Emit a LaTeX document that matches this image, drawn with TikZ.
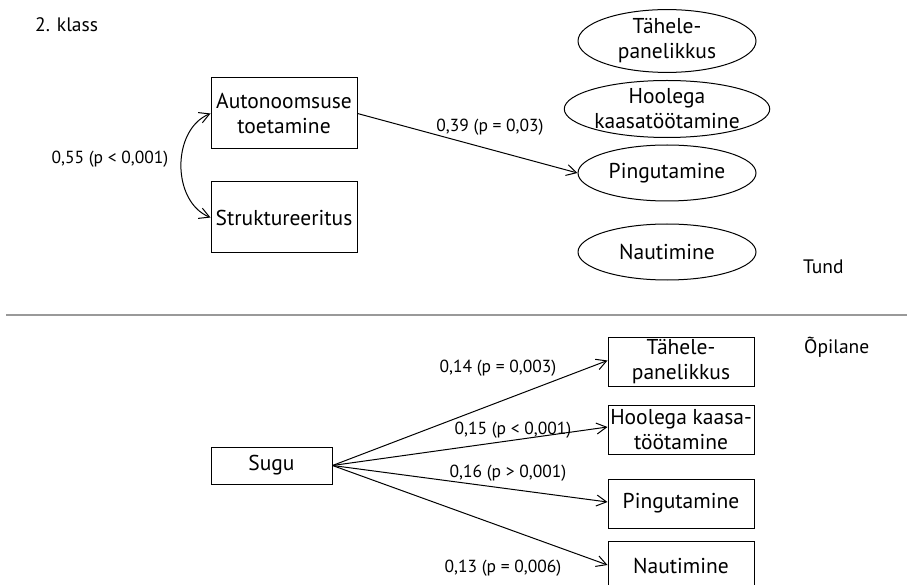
\documentclass[tikz,border=0pt]{standalone}
\usepackage{fontspec}
\setmainfont{PT Sans}
\usetikzlibrary{arrows.meta,shapes.geometric}
\begin{document}
\begin{tikzpicture}[x=1pt,y=-1pt,
  every node/.style={font=\fontsize{21.5}{25}\selectfont},
  box/.style={draw,rectangle,line width=1pt,inner sep=0pt,align=center},
  oval/.style={draw,ellipse,line width=1pt,inner sep=0pt,minimum width=178pt,minimum height=56pt,align=center},
  lbl/.style={font=\fontsize{17.5}{20}\selectfont,inner sep=1pt},
  plain/.style={font=\fontsize{19.5}{23}\selectfont,inner sep=0pt},
  arr/.style={line width=1pt,-{Straight Barb[length=10pt,width=11pt]}},
  darr/.style={line width=1pt,{Straight Barb[length=10pt,width=11pt]}-{Straight Barb[length=10pt,width=11pt]}},
  sep/.style={draw=black!40,line width=1.3pt}
]
\useasboundingbox (0,0) rectangle (907,585);

% top panel
\node[plain,anchor=west] (title) at (35,25) {2. klass};
\node[box,minimum width=146pt,minimum height=71pt] (auto) at (284,113.5) {Autonoomsuse\\toetamine};
\node[box,minimum width=146pt,minimum height=71pt] (struk) at (284,217.5) {Struktureeritus};

\node[oval] (e1) at (667,41) {Tähele-\\panelikkus};
\node[oval] (e2) at (667,109) {Hoolega\\kaasatöötamine};
\node[oval] (e3) at (667,173) {Pingutamine};
\node[oval] (e4) at (667,252) {Nautimine};
\node[plain,anchor=west] (tund) at (803,267) {Tund};

\draw[darr] (auto.west) .. controls +(-39,16) and +(-39,-16) .. (struk.west);
\node[lbl] (l55) at (110,159) {0,55 (p < 0,001)};

\draw[arr] (auto.east) -- (e3.west);
\node[lbl] (l39) at (490,127) {0,39 (p = 0,03)};

% separator
\coordinate (s1) at (6,315);
\coordinate (s2) at (907,315);
\draw[sep] (s1) -- (s2);

% bottom panel
\node[plain,anchor=west] (opil) at (804,347) {Õpilane};
\node[box,minimum width=121pt,minimum height=37pt] (sugu) at (271.5,465.5) {Sugu};
\node[box,minimum width=146pt,minimum height=49pt] (b1) at (681,361.5) {Tähele-\\panelikkus};
\node[box,minimum width=146pt,minimum height=49pt] (b2) at (681,429.5) {Hoolega kaasa-\\töötamine};
\node[box,minimum width=146pt,minimum height=49pt] (b3) at (681,503.5) {Pingutamine};
\node[box,minimum width=146pt,minimum height=49pt] (b4) at (681,566) {Nautimine};

\draw[arr] (sugu.east) -- ([yshift=1pt]b1.west);
\draw[arr] (sugu.east) -- ([yshift=2.5pt]b2.west);
\draw[arr] (sugu.east) -- ([yshift=1.5pt]b3.west);
\draw[arr] (sugu.east) -- ([yshift=1pt]b4.west);

\node[lbl] (l14) at (498,368) {0,14 (p = 0,003)};
\node[lbl] (l15) at (513,430) {0,15 (p < 0,001)};
\node[lbl] (l16) at (508,473) {0,16 (p > 0,001)};
\node[lbl] (l13) at (503,568) {0,13 (p = 0,006)};
\end{tikzpicture}
\end{document}
